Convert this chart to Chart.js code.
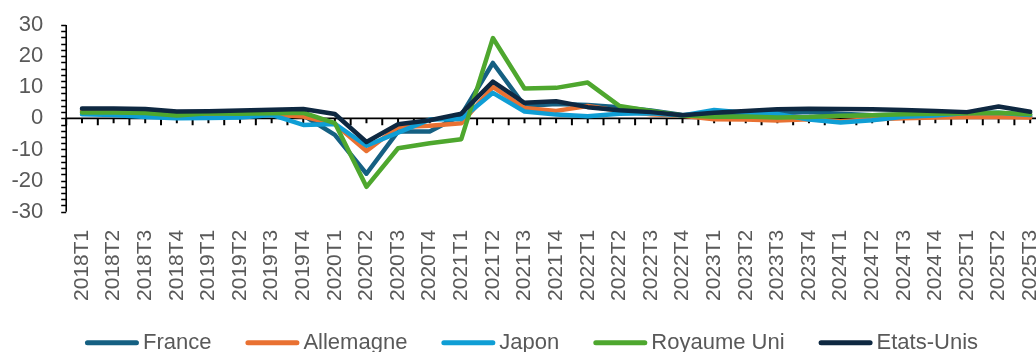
<!DOCTYPE html>
<html lang="fr">
<head>
<meta charset="utf-8">
<title>Croissance du PIB en glissement annuel</title>
<script src="https://cdn.jsdelivr.net/npm/chart.js@4/dist/chart.umd.min.js"></script>
<style>
  html, body { margin: 0; padding: 0; background: #fff; overflow: hidden; }
  #wrap { width: 1063px; height: 352px; }
</style>
</head>
<body>
<div id="wrap"><canvas id="chart" width="1063" height="352"></canvas></div>
<script>
// Trimestres
const quarters = [
  '2018T1','2018T2','2018T3','2018T4',
  '2019T1','2019T2','2019T3','2019T4',
  '2020T1','2020T2','2020T3','2020T4',
  '2021T1','2021T2','2021T3','2021T4',
  '2022T1','2022T2','2022T3','2022T4',
  '2023T1','2023T2','2023T3','2023T4',
  '2024T1','2024T2','2024T3','2024T4',
  '2025T1','2025T2','2025T3'
];

// Croissance du PIB, % sur un an
const france = [2.7, 2.6, 1.8, 1.4, 1.8, 1.9, 1.8, 1.0, -5.3, -17.8, -4.2, -4.2, 1.0, 17.8, 4.0, 4.6, 4.3, 3.6, 2.5, 1.1, 1.1, 1.9, 1.6, 2.0, 1.5, 1.0, 1.2, 1.0, 0.6, 0.8, 0.6];
const allemagne = [2.2, 2.1, 1.3, 0.6, 1.0, 0.6, 1.2, 0.6, -1.8, -10.5, -2.8, -2.4, -1.6, 10.1, 3.3, 2.4, 4.0, 2.4, 1.3, 0.8, -0.3, -0.4, -0.7, -0.3, -0.9, -0.3, 0.0, 0.3, 0.4, 0.4, 0.3];
const japon = [1.3, 1.1, 0.4, 0.0, 0.1, 0.3, 1.1, -2.1, -1.8, -8.8, -4.6, -0.4, -0.2, 8.2, 2.2, 1.2, 0.7, 1.5, 1.6, 0.9, 2.7, 1.8, 1.4, -0.4, -1.3, -0.6, 0.5, 0.9, 1.7, 1.8, 1.1];
const royaumeUni = [1.9, 1.9, 1.7, 0.9, 1.6, 1.5, 1.6, 1.8, -1.5, -22.0, -9.6, -8.0, -6.7, 25.8, 9.6, 9.8, 11.5, 4.0, 2.4, 0.9, 0.5, 0.6, 0.3, 0.4, 0.8, 1.0, 1.3, 1.5, 1.6, 1.8, 1.3];
const etatsUnis = [3.2, 3.2, 3.0, 2.2, 2.3, 2.5, 2.8, 3.0, 1.4, -7.6, -1.9, -0.6, 1.5, 11.8, 5.0, 5.5, 3.6, 2.6, 2.0, 1.0, 1.8, 2.4, 2.9, 3.1, 3.0, 2.9, 2.7, 2.4, 2.0, 3.8, 2.1];

// Axe des valeurs
const Y_MIN = -30;
const Y_MAX = 30;
const Y_STEP = 10;
const Y_MINOR = 2;

const FONT = "'Liberation Sans', Arial, Helvetica, sans-serif";
const TEXT_COLOR = '#595959';

function series(label, data, color, order) {
  return {
    label, data, order,
    borderColor: color,
    backgroundColor: color,
    borderWidth: 4.5,
    borderCapStyle: 'round',
    borderJoinStyle: 'round',
    pointRadius: 0,
    pointHoverRadius: 0,
    tension: 0,
    fill: false,
    clip: false
  };
}

function noScalePadding(scale) {
  scale.paddingTop = 0;
  scale.paddingBottom = 0;
  scale.paddingLeft = 0;
  scale.paddingRight = 0;
}

// Axes croisés en zéro, avec graduations principales et secondaires
const crossAxes = {
  id: 'crossAxes',
  beforeDatasetsDraw(chart) {
    const { ctx, chartArea: a, scales: { x, y } } = chart;
    const y0 = y.getPixelForValue(0);
    ctx.save();
    ctx.strokeStyle = '#000';
    ctx.lineCap = 'butt';

    // axe vertical
    ctx.lineWidth = 1.6;
    ctx.beginPath();
    ctx.moveTo(a.left, a.top);
    ctx.lineTo(a.left, a.bottom);
    ctx.stroke();

    ctx.lineWidth = 1.4;
    ctx.beginPath();
    for (let v = Y_MIN; v <= Y_MAX; v += Y_MINOR) {
      const py = Math.round(y.getPixelForValue(v)) + 0.5;
      ctx.moveTo(a.left - 5, py);
      ctx.lineTo(a.left, py);
    }
    ctx.stroke();

    // axe horizontal en zéro
    ctx.lineWidth = 1.8;
    ctx.beginPath();
    ctx.moveTo(a.left, y0);
    ctx.lineTo(a.right, y0);
    ctx.stroke();

    ctx.lineWidth = 2;
    ctx.beginPath();
    for (let i = 0; i <= quarters.length; i++) {
      const px = x.getPixelForValue(i - 0.5);
      ctx.moveTo(px, y0);
      ctx.lineTo(px, y0 + 7);
    }
    for (let i = 0; i < quarters.length; i++) {
      const px = x.getPixelForValue(i);
      ctx.moveTo(px, y0);
      ctx.lineTo(px, y0 + 5);
    }
    ctx.stroke();
    ctx.restore();
  }
};

// Légende en bas, centrée
const bottomLegend = {
  id: 'bottomLegend',
  afterDraw(chart) {
    const { ctx, width } = chart;
    const sets = chart.data.datasets;
    const lineLen = 54, gapText = 4, gapItem = 34;
    ctx.save();
    ctx.font = '22px ' + FONT;
    const widths = sets.map(d => ctx.measureText(d.label).width);
    const total = widths.reduce((s, w) => s + lineLen + gapText + w, 0) + gapItem * (sets.length - 1);
    let cx = width / 2 - total / 2;
    const lineY = 342.7;
    const baseY = 348.5;
    sets.forEach((d, i) => {
      ctx.strokeStyle = d.borderColor;
      ctx.lineWidth = 5;
      ctx.lineCap = 'round';
      ctx.beginPath();
      ctx.moveTo(cx + 2.5, lineY);
      ctx.lineTo(cx + lineLen - 2.5, lineY);
      ctx.stroke();
      ctx.fillStyle = TEXT_COLOR;
      ctx.textBaseline = 'alphabetic';
      ctx.textAlign = 'left';
      ctx.fillText(d.label, cx + lineLen + gapText, baseY);
      cx += lineLen + gapText + widths[i] + gapItem;
    });
    ctx.restore();
  }
};

new Chart(document.getElementById('chart'), {
  type: 'line',
  data: {
    labels: quarters,
    datasets: [
      series('France', france, '#156082', 5),
      series('Allemagne', allemagne, '#E97132', 4),
      series('Japon', japon, '#0F9ED5', 3),
      series('Royaume Uni', royaumeUni, '#4EA72E', 2),
      series('Etats-Unis', etatsUnis, '#0E2841', 1)
    ]
  },
  options: {
    responsive: false,
    animation: false,
    events: [],
    layout: { padding: { top: 25, right: 17, bottom: 0, left: 0 } },
    plugins: {
      legend: { display: false },
      tooltip: { enabled: false },
      title: { display: false }
    },
    scales: {
      x: {
        type: 'category',
        offset: true,
        grid: { display: false, drawTicks: false },
        border: { display: false },
        ticks: {
          autoSkip: false,
          minRotation: 90,
          maxRotation: 90,
          padding: 18,
          color: TEXT_COLOR,
          font: { family: FONT, size: 21 }
        },
        afterFit(scale) {
          scale.height = 140.3;
          noScalePadding(scale);
        }
      },
      y: {
        min: Y_MIN,
        max: Y_MAX,
        grid: { display: false, drawTicks: false },
        border: { display: false },
        ticks: {
          autoSkip: false,
          stepSize: Y_STEP,
          padding: 23,
          color: TEXT_COLOR,
          font: { family: FONT, size: 22 }
        },
        afterFit(scale) {
          scale.width = 66.2;
          noScalePadding(scale);
        }
      }
    }
  },
  plugins: [crossAxes, bottomLegend]
});
</script>
</body>
</html>
